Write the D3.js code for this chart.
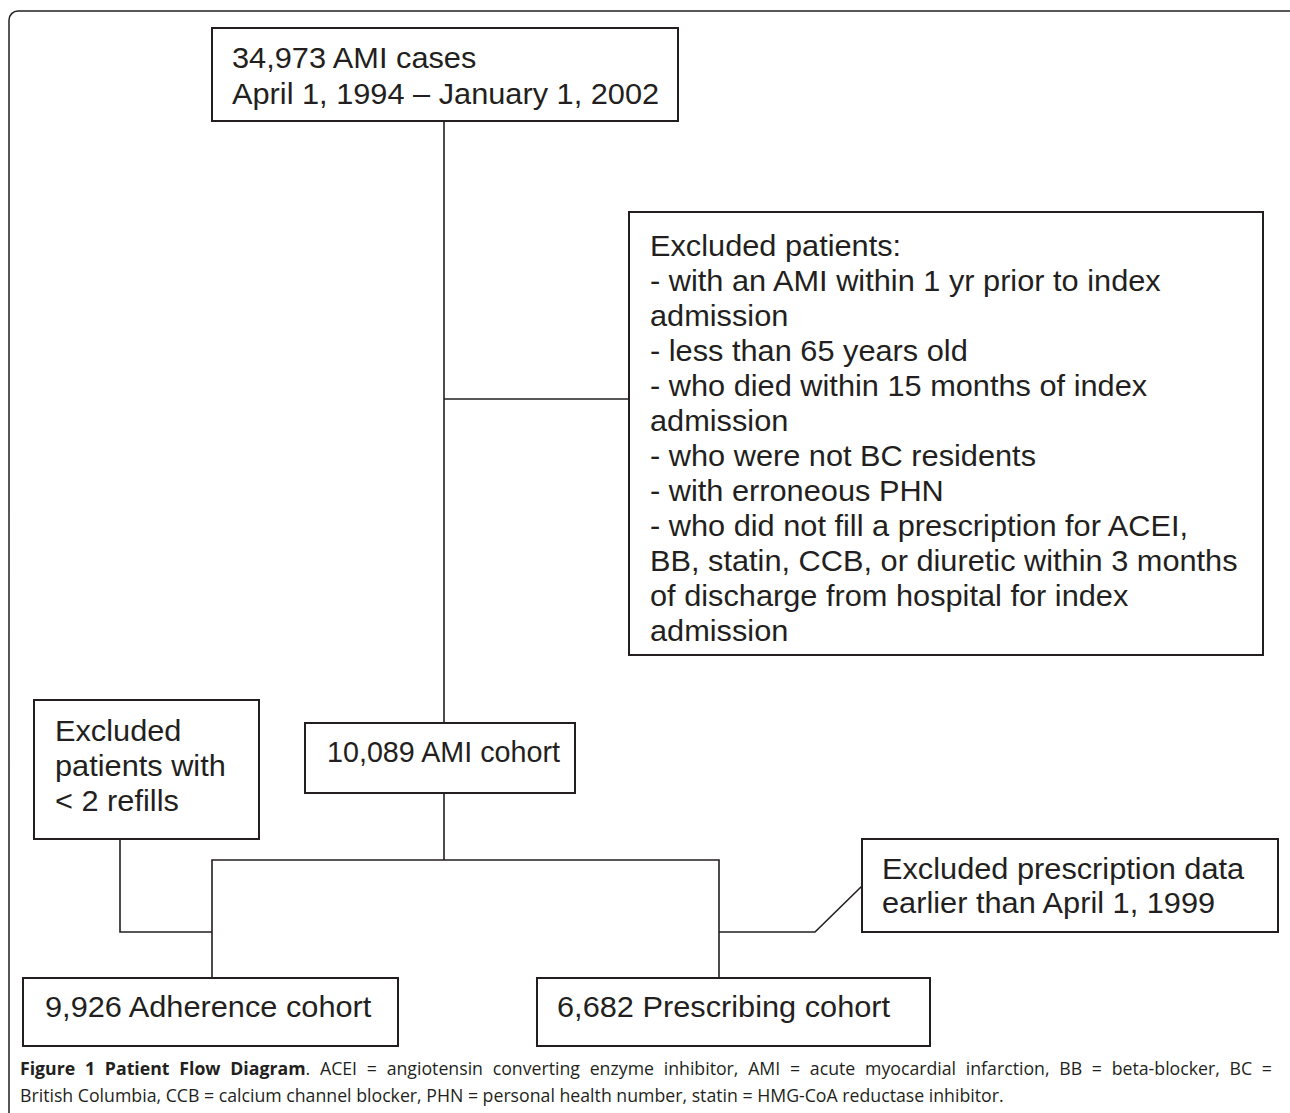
<!DOCTYPE html>
<meta charset="utf-8">
<style>
body { margin: 0; background: #fff; }
.box { fill: #fff; stroke: #231f20; stroke-width: 2; }
.link { fill: none; stroke: #231f20; stroke-width: 1.6; }
.label { font-family: "Liberation Sans", Arial, sans-serif; font-size: 29px; fill: #231f20; }
.caption { font-family: "Open Sans", sans-serif; font-size: 17px; fill: #231f20; }
</style>
<script src="https://d3js.org/d3.v7.min.js"></script>
<div id="my_dataviz"></div>
<script>

// box texts
var topBox = ["34,973 AMI cases", "April 1, 1994 \u2013 January 1, 2002"];
var excludedBox = ["Excluded patients:",
  "- with an AMI within 1 yr prior to index",
  "admission",
  "- less than 65 years old",
  "- who died within 15 months of index",
  "admission",
  "- who were not BC residents",
  "- with erroneous PHN",
  "- who did not fill a prescription for ACEI,",
  "BB, statin, CCB, or diuretic within 3 months",
  "of discharge from hospital for index",
  "admission"];
var refillBox = ["Excluded", "patients with", "< 2 refills"];
var cohortBox = ["10,089 AMI cohort"];
var prescBox = ["Excluded prescription data", "earlier than April 1, 1999"];
var adherenceBox = ["9,926 Adherence cohort"];
var prescribingBox = ["6,682 Prescribing cohort"];

var captionBold = "Figure 1 Patient Flow Diagram";
var captionLines = [
  ". ACEI = angiotensin converting enzyme inhibitor, AMI = acute myocardial infarction, BB = beta-blocker, BC =",
  "British Columbia, CCB = calcium channel blocker, PHN = personal health number, statin = HMG-CoA reductase inhibitor."
];

var width = 1290, height = 1113;

var svg = d3.select("#my_dataviz")
  .append("svg")
    .attr("width", width)
    .attr("height", height);

// outer frame (runs off the right and bottom)
svg.append("rect")
  .attr("x", 9).attr("y", 11)
  .attr("width", 1300).attr("height", 1140)
  .attr("rx", 9)
  .style("fill", "none")
  .style("stroke", "#231f20")
  .style("stroke-width", 1.5);

// layout of the boxes (sx: the original lettering runs a touch wider than Liberation Sans)
var layout = [
  {lines: topBox,         x: 212, y: 28,  w: 466, h: 93,  tx: 232, ty: 68,  lh: 36, sx: 1.06},
  {lines: excludedBox,    x: 629, y: 212, w: 634, h: 443, tx: 650, ty: 256, lh: 35, sx: 1.06},
  {lines: refillBox,      x: 34,  y: 700, w: 225, h: 139, tx: 55,  ty: 741, lh: 35, sx: 1.06},
  {lines: cohortBox,      x: 305, y: 723, w: 270, h: 70,  tx: 327, ty: 762, lh: 35, sx: 0.99},
  {lines: prescBox,       x: 862, y: 839, w: 416, h: 93,  tx: 882, ty: 879, lh: 34, sx: 1.06},
  {lines: adherenceBox,   x: 23,  y: 978, w: 375, h: 68,  tx: 45,  ty: 1017, lh: 35, sx: 1.06},
  {lines: prescribingBox, x: 537, y: 978, w: 393, h: 68,  tx: 557, ty: 1017, lh: 35, sx: 1.06}
];

// connectors
var line = d3.line();
var links = [
  [[444, 121], [444, 723]],
  [[444, 399], [629, 399]],
  [[444, 793], [444, 860]],
  [[212, 978], [212, 860], [719, 860], [719, 978]],
  [[120, 839], [120, 932], [212, 932]],
  [[719, 932], [815, 932], [862, 886]]
];
svg.selectAll(".link")
  .data(links)
  .enter()
  .append("path")
    .attr("class", "link")
    .attr("d", function(d){ return line(d); });

var g = svg.selectAll(".node")
  .data(layout)
  .enter()
  .append("g")
    .attr("class", "node");

g.append("rect")
  .attr("class", "box")
  .attr("x", function(d){ return d.x; })
  .attr("y", function(d){ return d.y; })
  .attr("width", function(d){ return d.w; })
  .attr("height", function(d){ return d.h; });

g.each(function(d){
  var node = d3.select(this);
  d.lines.forEach(function(t, i){
    node.append("text")
      .attr("class", "label")
      .attr("transform", "translate(" + d.tx + "," + (d.ty + i * d.lh) + ") scale(" + d.sx + ",1)")
      .text(t);
  });
});

// caption
var cap1 = svg.append("text")
  .attr("class", "caption")
  .attr("x", 20).attr("y", 1075);
cap1.append("tspan").style("font-weight", "bold").text(captionBold);
cap1.append("tspan").text(captionLines[0]);

var cap2 = svg.append("text")
  .attr("class", "caption")
  .attr("x", 20).attr("y", 1102)
  .text(captionLines[1]);

// size the caption so the last line ends where the original one does
var fs = 17 * (1004 - 20) / cap2.node().getComputedTextLength();
svg.selectAll(".caption").style("font-size", fs + "px");

// justify the first caption line to the right margin
var natural = cap1.node().getComputedTextLength();
var gaps = (captionBold + captionLines[0]).split(" ").length - 1;
var extra = Math.max(0, (1272 - 20 - natural) / gaps);
cap1.style("word-spacing", extra + "px");

</script>
